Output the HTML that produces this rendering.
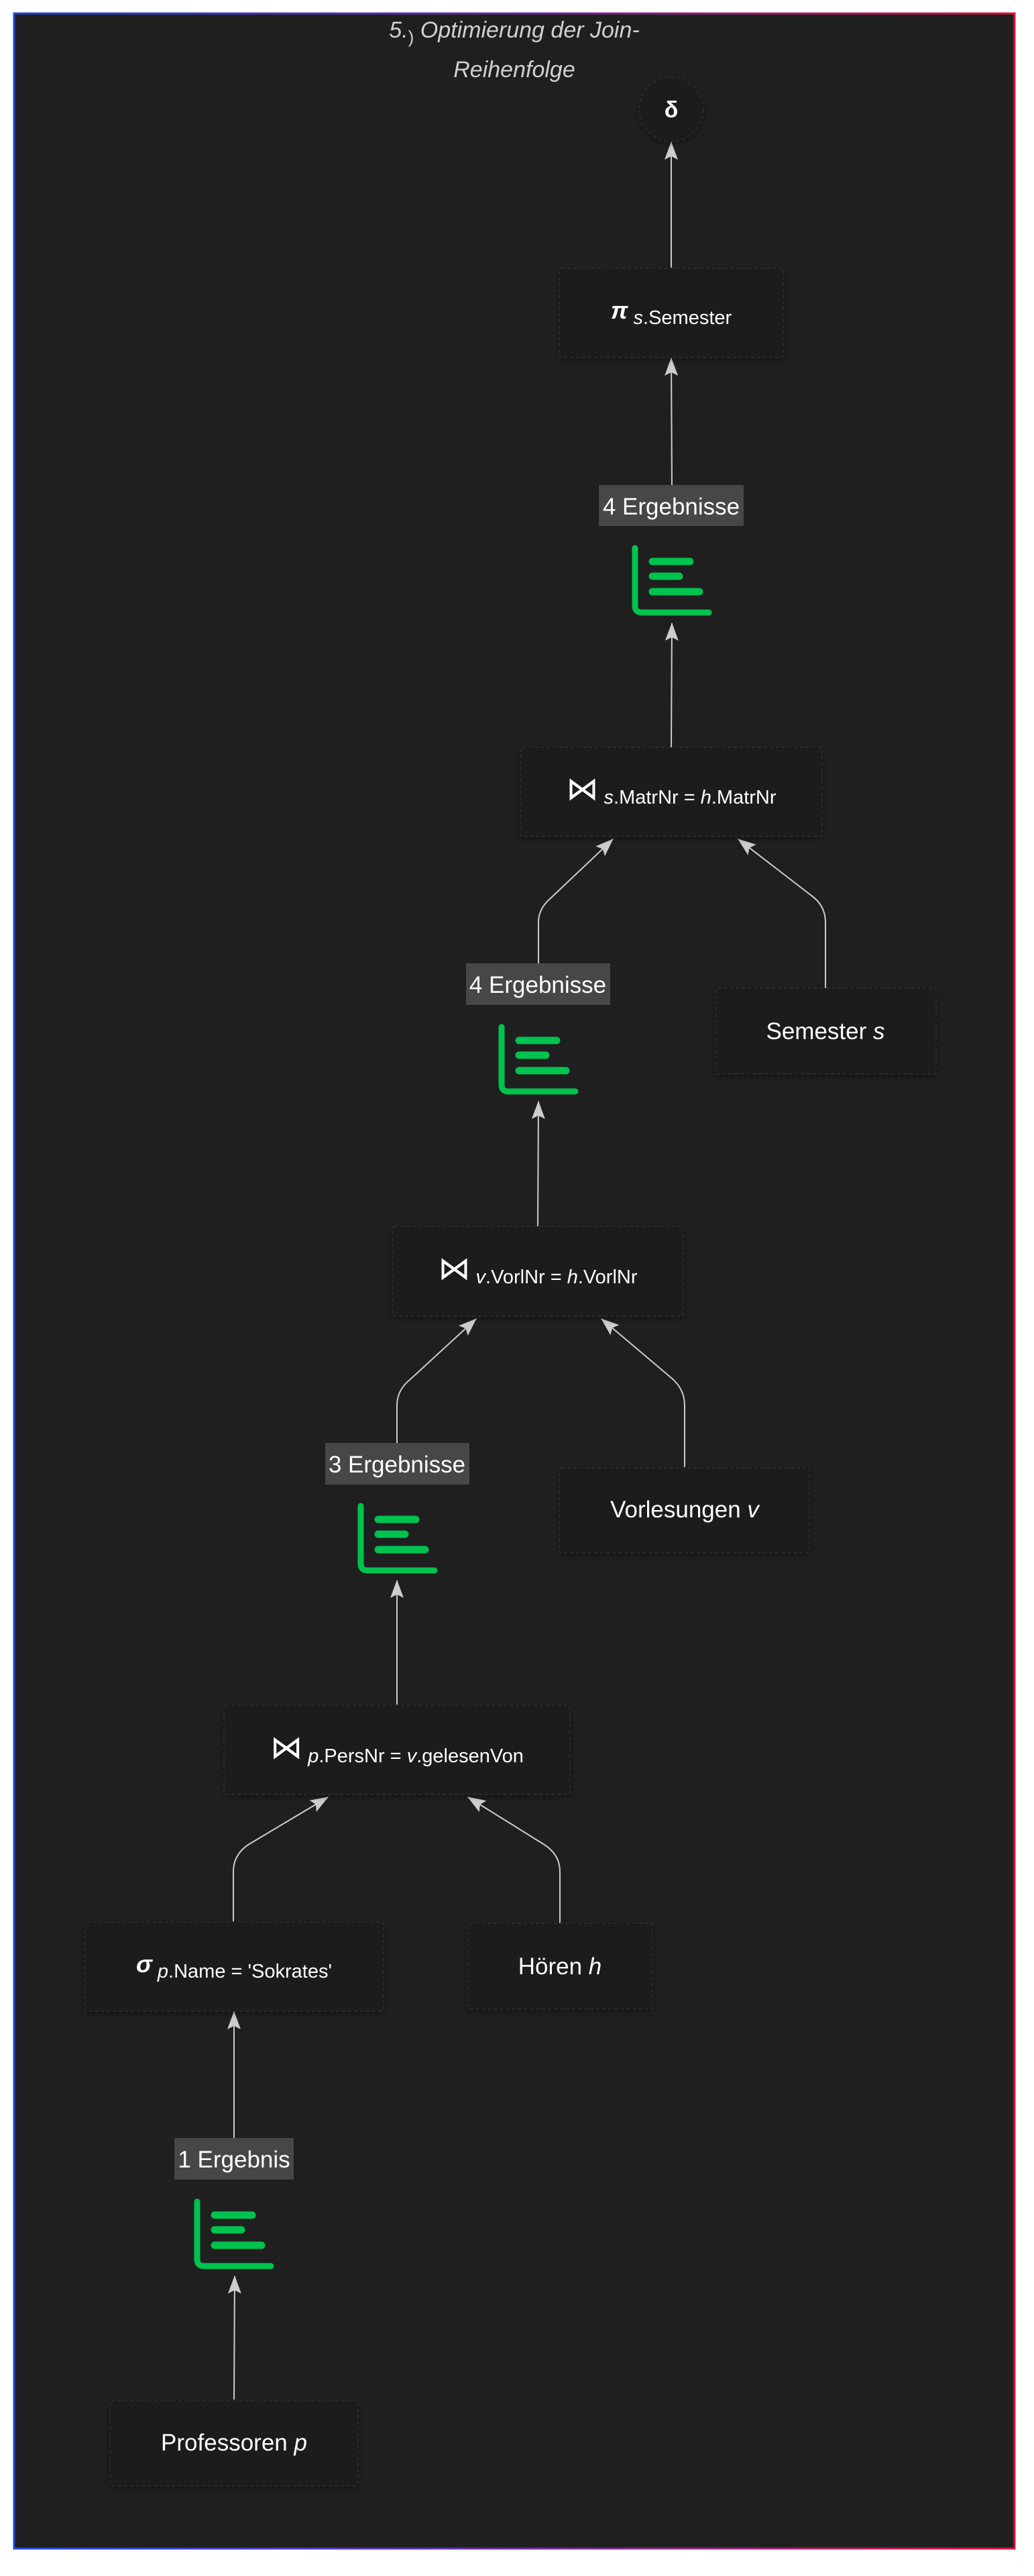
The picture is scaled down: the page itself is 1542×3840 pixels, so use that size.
<!DOCTYPE html>
<html><head><meta charset="utf-8"><style>
html,body{margin:0;padding:0;background:#fff;}
svg{display:block;}
text{font-family:"Liberation Sans","DejaVu Sans",sans-serif;fill:#fff;}
</style></head><body>
<svg width="1542" height="3840" viewBox="0 0 1542 3840" xmlns="http://www.w3.org/2000/svg">
<defs>
<linearGradient id="fg" x1="0" y1="0" x2="1" y2="0">
<stop offset="0" stop-color="#1f47e0"/><stop offset="0.5" stop-color="#6a2aa8"/><stop offset="1" stop-color="#e0103c"/>
</linearGradient>
<marker id="ah" markerUnits="userSpaceOnUse" markerWidth="28" markerHeight="28" viewBox="0 0 28 28" refX="26" refY="14" orient="auto">
<path d="M0,4 L27,14 L0,24 L5,14 Z" fill="#cccccc"/>
</marker>
<filter id="sh" x="-10%" y="-10%" width="120%" height="130%"><feDropShadow dx="0" dy="3" stdDeviation="4" flood-color="#000" flood-opacity="0.35"/></filter>
<g id="ic">
<path d="M6,4 L6,90 Q6,100 16,100 L116,100" fill="none" stroke="#00c24e" stroke-width="9" stroke-linecap="round"/>
<path d="M32,24 L88,24 M32,46 L72,46 M32,69 L102,69" stroke="#00c24e" stroke-width="11" stroke-linecap="round"/>
</g>
</defs>
<rect x="21" y="20" width="1492" height="3779" fill="#1f1f1f" stroke="url(#fg)" stroke-width="3"/>

<text x="767" y="56" text-anchor="middle" font-size="34" font-style="italic" style="fill:#d0d0d0">5.<tspan font-style="normal" font-size="26" dy="8">)</tspan><tspan dy="-8"> Optimierung der Join-</tspan></text>
<text x="767" y="115" text-anchor="middle" font-size="34" font-style="italic" style="fill:#d0d0d0">Reihenfolge</text>

<g fill="none" stroke="#cccccc" stroke-width="2" marker-end="url(#ah)">
<path d="M1001 400 L1001 212"/>
<path d="M1002 723 L1001 534"/>
<path d="M1001 1114 L1002 929"/>
<path d="M803 1436 L803 1375 Q803 1355 820 1340 L914 1251"/>
<path d="M1231 1473 L1231 1375 Q1231 1350 1210 1335 L1101 1251"/>
<path d="M802 1828 L803 1642"/>
<path d="M592 2151 L592 2095 Q592 2072 612 2056 L710 1966"/>
<path d="M1021 2188 L1021 2095 Q1021 2070 1000 2053 L897 1966"/>
<path d="M592 2542 L592 2356"/>
<path d="M348 2865 L348 2790 Q348 2765 370 2750 L489 2679"/>
<path d="M835 2867 L835 2790 Q835 2765 812 2750 L698 2679"/>
<path d="M349 3187 L349 2999"/>
<path d="M349 3578 L350 3393"/>
</g>

<g fill="#1b1b1b" stroke="#2c2c2c" stroke-width="2" stroke-dasharray="5,4" filter="url(#sh)">
<circle cx="1001" cy="163" r="48"/>
<rect x="834" y="400" width="334" height="133" rx="3"/>
<rect x="776" y="1114" width="450" height="133" rx="3"/>
<rect x="1067" y="1473" width="329" height="128" rx="3"/>
<rect x="585" y="1828" width="434" height="134" rx="3"/>
<rect x="834" y="2188" width="373" height="127" rx="3"/>
<rect x="334" y="2542" width="516" height="133" rx="3"/>
<rect x="126" y="2865" width="446" height="133" rx="3"/>
<rect x="697" y="2867" width="276" height="128" rx="3"/>
<rect x="164" y="3578" width="370" height="128" rx="3"/>
</g>

<text x="1001" y="175" text-anchor="middle" font-size="34" font-weight="bold">δ</text>
<text x="1001" y="483" text-anchor="middle" font-size="29"><tspan font-size="36" font-weight="bold" font-style="italic" dy="-8">π</tspan><tspan dy="8"> </tspan><tspan font-style="italic">s</tspan>.Semester</text>
<text x="1001" y="1198" text-anchor="middle" font-size="29"><tspan font-family="DejaVu Sans" font-size="48" dy="-6">⋈</tspan><tspan dy="6"> </tspan><tspan font-style="italic">s</tspan>.MatrNr = <tspan font-style="italic">h</tspan>.MatrNr</text>
<text x="1231" y="1549" text-anchor="middle" font-size="35">Semester <tspan font-style="italic">s</tspan></text>
<text x="802" y="1913" text-anchor="middle" font-size="29"><tspan font-family="DejaVu Sans" font-size="48" dy="-6">⋈</tspan><tspan dy="6"> </tspan><tspan font-style="italic">v</tspan>.VorlNr = <tspan font-style="italic">h</tspan>.VorlNr</text>
<text x="1021" y="2262" text-anchor="middle" font-size="35">Vorlesungen <tspan font-style="italic">v</tspan></text>
<text x="592" y="2627" text-anchor="middle" font-size="29"><tspan font-family="DejaVu Sans" font-size="48" dy="-6">⋈</tspan><tspan dy="6"> </tspan><tspan font-style="italic">p</tspan>.PersNr = <tspan font-style="italic">v</tspan>.gelesenVon</text>
<text x="349" y="2948" text-anchor="middle" font-size="29"><tspan font-size="36" font-weight="bold" font-style="italic" dy="-8">σ</tspan><tspan dy="8"> </tspan><tspan font-style="italic">p</tspan>.Name = 'Sokrates'</text>
<text x="835" y="2943" text-anchor="middle" font-size="35">Hören <tspan font-style="italic">h</tspan></text>
<text x="349" y="3653" text-anchor="middle" font-size="35">Professoren <tspan font-style="italic">p</tspan></text>

<g fill="#474747">
<rect x="893" y="723" width="216" height="61"/>
<rect x="695" y="1436" width="215" height="62"/>
<rect x="485" y="2151" width="215" height="62"/>
<rect x="260" y="3187" width="178" height="62"/>
</g>
<text x="1001" y="767" text-anchor="middle" font-size="35">4 Ergebnisse</text>
<text x="802" y="1480" text-anchor="middle" font-size="35">4 Ergebnisse</text>
<text x="592" y="2195" text-anchor="middle" font-size="35">3 Ergebnisse</text>
<text x="349" y="3231" text-anchor="middle" font-size="35">1 Ergebnis</text>

<use href="#ic" x="941" y="813"/>
<use href="#ic" x="742" y="1527"/>
<use href="#ic" x="532" y="2241"/>
<use href="#ic" x="288" y="3278"/>
</svg>
</body></html>
